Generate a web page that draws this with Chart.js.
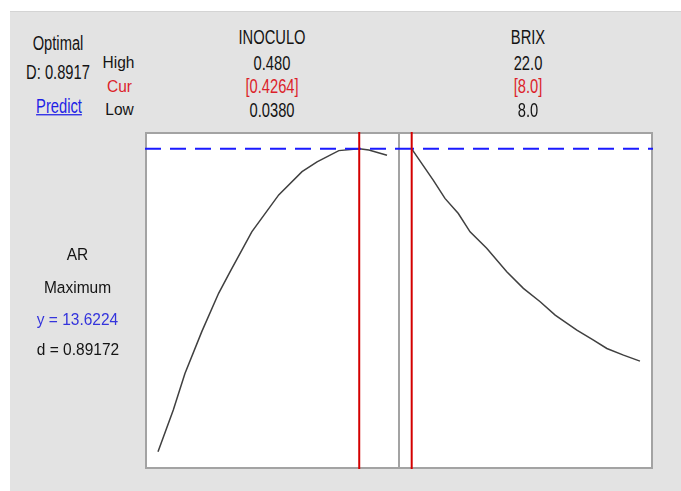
<!DOCTYPE html>
<html>
<head>
<meta charset="utf-8">
<script src="https://cdn.jsdelivr.net/npm/chart.js@4.4.1/dist/chart.umd.min.js"></script>
<style>
  body { margin: 0; background: #fff; }
  #wrap { position: relative; width: 681px; height: 491px; overflow: hidden; font-family: "Liberation Sans", Arial, sans-serif; }
  #bg { position: absolute; left: 10px; top: 11px; width: 671px; height: 479px; background: #e3e3e3; border-top: 1px solid #d4d4d4; }
  .lbl { position: absolute; width: 160px; margin-left: -80px; text-align: center; line-height: 20px; height: 20px; white-space: nowrap; color: #141414; transform-origin: 50% 15.5px; }
  .big { font-size: 16px; transform: scale(0.92, 1.25); }
  .small { font-size: 15.5px; transform: scale(1, 1.12); }
  .red { color: #dc1f2b; }
  .link { color: #1f1fe6; text-decoration: underline; }
  .blue { color: #3434dc; }
  .panel { position: absolute; top: 132px; }
</style>
</head>
<body>
<div id="wrap">
  <div id="bg"></div>
  <div class="panel" style="left:145px"><canvas id="c1" width="255" height="337"></canvas></div>
  <div class="panel" style="left:398px"><canvas id="c2" width="255" height="337"></canvas></div>
</div>
<script>
// factores y ajustes del optimizador
const factors = ['INOCULO', 'BRIX'];
const highs = ['0.480', '22.0'];
const lows = ['0.0380', '8.0'];
const currents = [0.4264, 8.0];
const currentLabels = ['[0.4264]', '[8.0]'];
const optimalY = 13.6224;
const desirability = 0.89172;

// curvas de respuesta AR
const inoculo = [0.038, 0.0675, 0.090, 0.1225, 0.155, 0.177, 0.219, 0.271, 0.316, 0.345, 0.387, 0.4264, 0.445, 0.480];
const arInoculo = [5.00, 6.19, 7.23, 8.42, 9.51, 10.12, 11.26, 12.31, 12.97, 13.25, 13.57, 13.62, 13.59, 13.44];
const brix = [8.0, 9.32, 10.04, 10.86, 11.58, 12.60, 13.83, 14.85, 15.88, 16.80, 18.13, 19.15, 19.97, 20.99, 22.0];
const arBrix = [13.62, 12.73, 12.21, 11.78, 11.26, 10.79, 10.12, 9.65, 9.27, 8.89, 8.46, 8.18, 7.94, 7.75, 7.58];

const yMin = 4.51, yMax = 14.10;

const wrap = document.getElementById('wrap');
function addLabel(text, cx, baseline, cls) {
  const d = document.createElement('div');
  d.className = 'lbl ' + cls;
  d.textContent = text;
  d.style.left = cx + 'px';
  d.style.top = (baseline - 15.5) + 'px';
  wrap.appendChild(d);
}

addLabel('Optimal', 58, 50, 'big');
addLabel('D: ' + desirability.toFixed(4), 57.5, 79.5, 'big');
addLabel('Predict', 59, 113, 'big link');
addLabel('High', 118.5, 68.7, 'small');
addLabel('Cur', 119.5, 92, 'small red');
addLabel('Low', 119.5, 115.3, 'small');

const centers = [272, 528];
factors.forEach((f, i) => {
  addLabel(f, centers[i], 44, 'big');
  addLabel(highs[i], centers[i], 70, 'big');
  addLabel(currentLabels[i], centers[i], 93.5, 'big red');
  addLabel(lows[i], centers[i], 117.7, 'big');
});

addLabel('AR', 77.5, 260, 'small');
addLabel('Maximum', 77.5, 293.3, 'small');
addLabel('y = ' + optimalY.toFixed(4), 77.5, 325, 'small blue');
addLabel('d = ' + desirability.toFixed(5), 78, 355, 'small');

const panelFrame = {
  id: 'panelFrame',
  beforeDraw(chart) {
    const { ctx, chartArea: a } = chart;
    ctx.save();
    ctx.fillStyle = '#fff';
    ctx.fillRect(a.left, a.top, a.width, a.height);
    ctx.restore();
  },
  beforeDatasetsDraw(chart) {
    const { ctx, chartArea: a } = chart;
    ctx.save();
    ctx.strokeStyle = '#a3a3a3';
    ctx.lineWidth = 2;
    ctx.strokeRect(a.left + 1, a.top + 1, a.width - 2, a.height - 2);
    ctx.restore();
  }
};

function makePanel(id, xs, ys, cur, xMin, xMax) {
  const curve = xs.map((x, i) => ({ x: x, y: ys[i] }));
  new Chart(document.getElementById(id), {
    type: 'line',
    data: {
      datasets: [
        { data: [{ x: cur, y: yMin }, { x: cur, y: yMax }], borderColor: '#d40000', borderWidth: 2, pointRadius: 0, order: 0, clip: false },
        { data: [{ x: xMin, y: optimalY }, { x: xMax, y: optimalY }], borderColor: '#1a1aff', borderWidth: 2, borderDash: [16, 9], pointRadius: 0, order: 1 },
        { data: curve, borderColor: '#404040', borderWidth: 1.5, pointRadius: 0, tension: 0, order: 2 }
      ]
    },
    options: {
      responsive: false,
      animation: false,
      layout: { padding: 0 },
      plugins: { legend: { display: false }, tooltip: { enabled: false } },
      scales: {
        x: { type: 'linear', display: false, min: xMin, max: xMax },
        y: { type: 'linear', display: false, min: yMin, max: yMax }
      }
    },
    plugins: [panelFrame]
  });
}

makePanel('c1', inoculo, arInoculo, currents[0], 0.0129, 0.5051);
makePanel('c2', brix, arBrix, currents[1], 7.16, 22.80);
</script>
</body>
</html>
